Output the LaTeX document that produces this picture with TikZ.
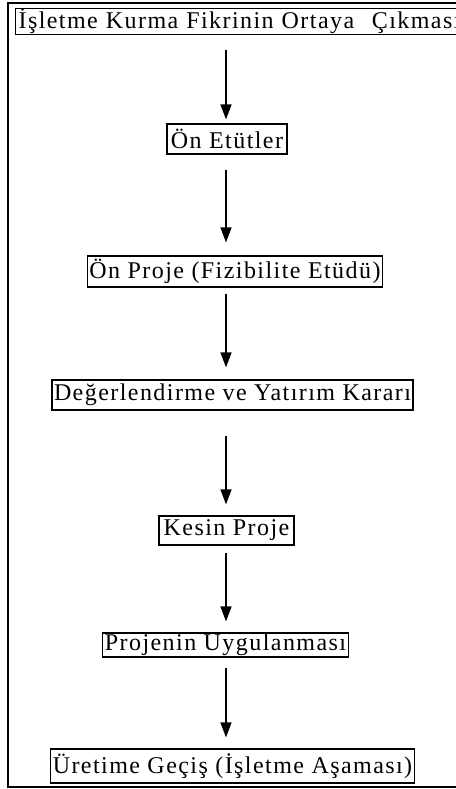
\documentclass[tikz,border=0pt]{standalone}
\usepackage{fontspec}
\setmainfont{Liberation Serif}
\newfontfamily\boxfont[LetterSpace=6]{Liberation Serif}
\usetikzlibrary{arrows.meta}
\tikzset{
  stepbox/.style={draw=black, line width=1.2pt, inner xsep=2pt, inner ysep=0pt,
    font=\boxfont\fontsize{24}{26}\selectfont, fill=white},
  flowarrow/.style={line width=1.4pt, -{Triangle[length=15pt,width=11pt]}},
  frame/.style={draw=black, line width=1.6pt}
}
\begin{document}
\begin{tikzpicture}[x=1pt,y=-1pt]
\useasboundingbox (0,0) rectangle (455,789);
\fill[white] (0,0) rectangle (455,789);
\draw[frame] (8,3) rectangle (480,787);
\coordinate (ax) at (226,0);
\node[stepbox, anchor=north west, minimum height=26pt, text width=470pt, align=left, inner xsep=3pt] (n1) at (15,8) {İşletme Kurma Fikrinin Ortaya\hspace{0.4em} Çıkması};
\node[stepbox, minimum width=120pt, minimum height=30pt] (n2) at (227,139) {Ön Etütler};
\node[stepbox, minimum width=294pt, minimum height=31pt] (n3) at (235,271.5) {Ön Proje (Fizibilite Etüdü)};
\node[stepbox, minimum width=359pt, minimum height=30pt] (n4) at (232.5,395) {Değerlendirme ve Yatırım Kararı};
\node[stepbox, minimum width=135pt, minimum height=29pt] (n5) at (226.5,530.5) {Kesin Proje};
\node[stepbox, minimum width=245pt, minimum height=24pt] (n6) at (225.5,645) {Projenin Uygulanması};
\node[stepbox, minimum width=359pt, minimum height=34pt] (n7) at (232.5,766) {Üretime Geçiş (İşletme Aşaması)};
\draw[flowarrow, shorten <=15pt, shorten >=4pt] (n1.south -| ax) -- (n2.north -| ax);
\draw[flowarrow, shorten <=15pt, shorten >=13pt] (n2.south -| ax) -- (n3.north -| ax);
\draw[flowarrow, shorten <=6pt, shorten >=12pt] (n3.south -| ax) -- (n4.north -| ax);
\draw[flowarrow, shorten <=25pt, shorten >=11pt] (n4.south -| ax) -- (n5.north -| ax);
\draw[flowarrow, shorten <=7pt, shorten >=11pt] (n5.south -| ax) -- (n6.north -| ax);
\draw[flowarrow, shorten <=10pt, shorten >=11pt] (n6.south -| ax) -- (n7.north -| ax);
\end{tikzpicture}
\end{document}
